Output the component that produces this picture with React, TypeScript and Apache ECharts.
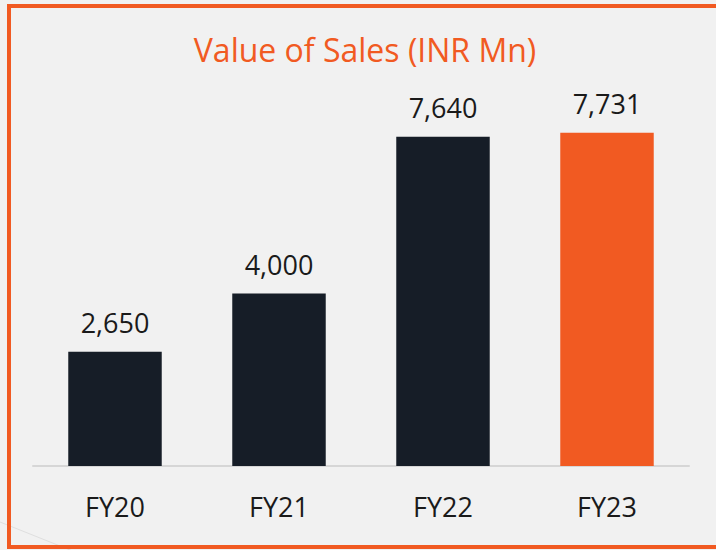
import React, { useEffect, useRef } from "react";
import * as echarts from "echarts";

const categories = ["FY20", "FY21", "FY22", "FY23"];
const salesValues = [2650, 4000, 7640, 7731];
const barColors = ["#161d27", "#161d27", "#161d27", "#f15a22"];
const titleText = "Value of Sales (INR Mn)";

export default function App() {
  const ref = useRef<HTMLDivElement>(null);
  useEffect(() => {
    if (!ref.current) return;
    const chart = echarts.init(ref.current, undefined, { renderer: "svg" });
    const font = "'Open Sans', 'Noto Sans', sans-serif";
    chart.setOption({
      animation: false,
      backgroundColor: "#f1f1f1",
      title: {
        text: titleText,
        left: 360,
        top: 28,
        textAlign: "center",
        textStyle: { color: "#f15a22", fontSize: 32, fontWeight: "normal", fontFamily: font },
      },
      grid: { left: 33, right: 27, top: 35, bottom: 84, containLabel: false },
      xAxis: {
        type: "category",
        data: categories,
        axisLine: { show: true, lineStyle: { color: "#d6d6d6", width: 2 } },
        axisTick: { show: false },
        axisLabel: { color: "#1a1a1a", fontSize: 27, fontFamily: font, margin: 27 },
      },
      yAxis: {
        type: "value",
        min: 0,
        max: 10000,
        show: false,
        splitLine: { show: false },
      },
      series: [
        {
          type: "bar",
          data: salesValues.map((v, i) => ({ value: v, itemStyle: { color: barColors[i] } })),
          barWidth: "57%",
          label: {
            show: true,
            position: "top",
            distance: 16,
            color: "#1a1a1a",
            fontSize: 27,
            fontFamily: font,
            formatter: (p: any) => Number(p.value).toLocaleString("en-US"),
          },
        },
      ],
      graphic: [
        {
          type: "line",
          silent: true,
          shape: { x1: 0, y1: 522, x2: 75, y2: 552 },
          style: { stroke: "#dedede", lineWidth: 1 },
        },
        {
          type: "rect",
          silent: true,
          shape: { x: 9, y: 6, width: 720, height: 541 },
          style: { fill: "none", stroke: "#f15a22", lineWidth: 4 },
        },
      ],
    });
    return () => chart.dispose();
  }, []);
  return (
    <div
      ref={ref}
      style={{ position: "fixed", left: 0, top: 0, width: 716, height: 550 }}
    />
  );
}
